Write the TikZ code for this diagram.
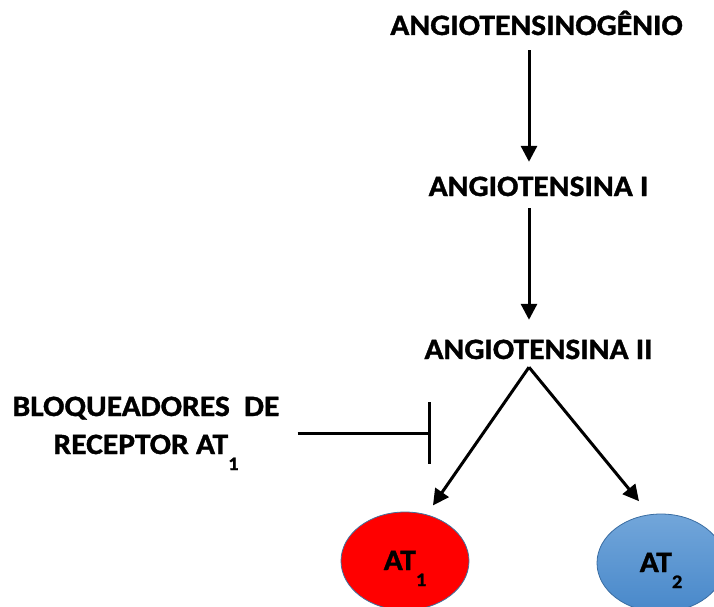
\documentclass[tikz,border=0pt]{standalone}
\usepackage{fontspec}
\setmainfont{Carlito}[FakeStretch=1.07, BoldFeatures={FakeBold=1.2}]
\usetikzlibrary{arrows.meta,shapes.geometric}
\definecolor{borda}{RGB}{65,113,156}
\definecolor{azulA}{RGB}{114,166,218}
\definecolor{azulB}{RGB}{72,136,202}
\newcommand{\indice}[1]{\raisebox{-16pt}{\fontsize{19}{19}\selectfont #1}}

\begin{document}
\begin{tikzpicture}[x=1pt, y=-1pt, font=\fontsize{29.5}{38}\selectfont\bfseries,
    T/.style={inner sep=0pt, text height=18pt, text depth=0pt},
    seta/.style={line width=3pt, -{Triangle[length=16pt, width=16pt]}},
    inib/.style={line width=3pt, -{Bar[width=62pt]}},
    recep/.style={T, ellipse, draw=borda, line width=0.8pt,
                  minimum width=128pt, minimum height=98pt}]
  \useasboundingbox (0,0) rectangle (714,607);

  % --- Cascata ---
  \node[T] (ang)  at (536.5, 26) {ANGIOTENSINOG\^ENIO};
  \node[T] (ang1) at (538.5, 187) {ANGIOTENSINA I};
  \node[T] (ang2) at (538.5, 350) {ANGIOTENSINA II};

  \draw[seta, shorten <=15pt, shorten >=16pt]
    ([xshift=-7.5pt]ang.south) -- ([xshift=-9.5pt]ang1.north);
  \draw[seta, shorten <=12pt, shorten >=21pt]
    ([xshift=-9.5pt]ang1.south) -- ([xshift=-9.5pt]ang2.north);

  % --- Receptores ---
  \node[recep, fill=red] (at1) at (405, 561) {AT\indice{1}};
  \node[recep, draw=azulB!80!black, top color=azulA, bottom color=azulB]
    (at2) at (661, 563) {AT\indice{2}};

  \coordinate (vertice) at ([xshift=-9.5pt, yshift=-8pt]ang2.south);
  \draw[seta, line join=miter, shorten >=11pt] (vertice) -- (at1.65);
  \draw[seta, line join=miter, shorten >=17pt] (vertice) -- (at2.103);

  % --- Bloqueador ---
  \node[anchor=base, align=center, inner sep=0pt] (bloq) at (146, 454)
    {BLOQUEADORES\ \ DE\\ RECEPTOR AT\indice{1}};
  \coordinate (barra) at (431, 433);
  \draw[inib, shorten <=18pt] (bloq.east |- barra) -- (barra);
\end{tikzpicture}
\end{document}
